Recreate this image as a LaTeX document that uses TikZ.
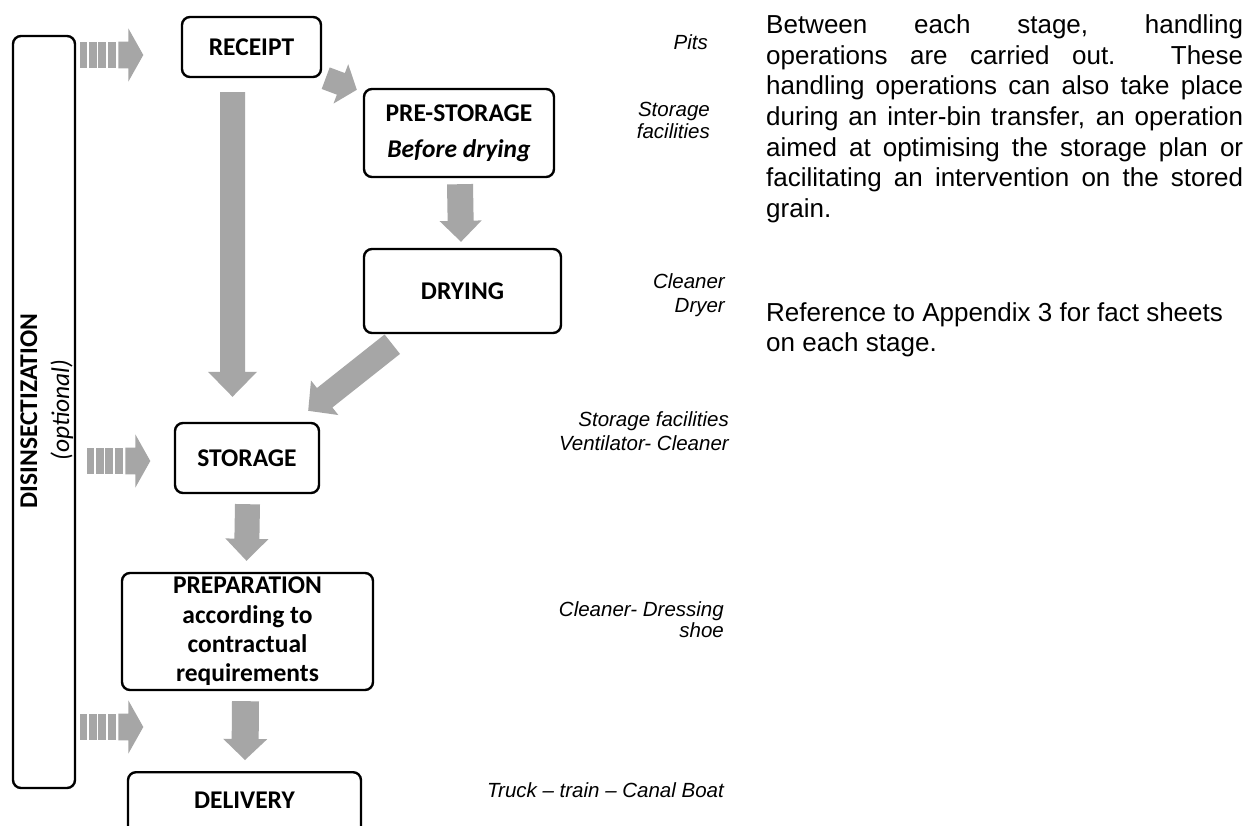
\documentclass[tikz,border=0pt]{standalone}
\usepackage{fontspec}
\setmainfont{Liberation Sans}
\newfontfamily\carlito{Carlito}
\usetikzlibrary{calc}
\definecolor{arrowgray}{RGB}{166,166,166}
\tolerance=10000
\hbadness=10000
\newcommand\blockarrow[6]{% #1 tail, #2 tip, #3 half shaft, #4 half head, #5 head length, #6 id
  \coordinate (#6h) at ($(#2)!#5!(#1)$);
  \fill[arrowgray] ($(#1)!#3!90:(#2)$) -- ($(#6h)!#3!90:(#2)$) -- ($(#6h)!#4!90:(#2)$) -- (#2)
     -- ($(#6h)!#4!-90:(#2)$) -- ($(#6h)!#3!-90:(#2)$) -- ($(#1)!#3!-90:(#2)$) -- cycle;}
\tikzset{
  stage/.style={draw, line width=2.4pt, rounded corners=8pt, inner sep=0pt, align=center,
    font=\carlito\bfseries\fontsize{25.5}{29.3}\selectfont},
  note/.style={font=\itshape\fontsize{20.5}{24}\selectfont, align=right, inner sep=0pt},
  para/.style={font=\fontsize{26}{30.6}\selectfont, inner sep=0pt, anchor=north west},
  stripearrow/.pic={
    \fill[arrowgray] (0,-13.3) rectangle (7,13.3);
    \fill[arrowgray] (9.3,-13.3) rectangle (16.7,13.3);
    \fill[arrowgray] (18.3,-13.3) rectangle (26,13.3);
    \fill[arrowgray] (28.3,-13.3) rectangle (36,13.3);
    \fill[arrowgray] (38.3,-13.3) -- (48.3,-13.3) -- (48.3,-26.7) -- (63.3,0)
       -- (48.3,26.7) -- (48.3,13.3) -- (38.3,13.3) -- cycle;
  }
}
\begin{document}
\begin{tikzpicture}[x=1pt,y=-1pt]
\useasboundingbox (0,0) rectangle (1255,826);
\fill[white] (0,0) rectangle (1255,826);
\clip (0,0) rectangle (1255,826);

% left bar
\node[draw, line width=2.4pt, rounded corners=8pt, minimum width=62pt, minimum height=752pt, inner sep=0pt] (dis) at (44,412) {};
\node[rotate=90, anchor=base, inner sep=0pt, font=\carlito\bfseries\fontsize{25.5}{29}\selectfont] (distext) at (37,411) {DISINSECTIZATION};
\node[rotate=90, anchor=base, inner sep=0pt, font=\carlito\itshape\fontsize{25.5}{29}\selectfont] (disopt) at (69,410) {(optional)};

% stages
\node[stage, minimum width=139pt, minimum height=60pt] (receipt) at (251.5,47) {RECEIPT};
\node[stage, minimum width=190pt, minimum height=88pt] (prestorage) at (459,133) {PRE-STORAGE\\[7pt]{\itshape Before drying}};
\node[stage, minimum width=197pt, minimum height=84pt] (drying) at (462.5,291) {DRYING};
\node[stage, minimum width=144pt, minimum height=70pt] (storage) at (247,458) {STORAGE};
\node[stage, minimum width=251pt, minimum height=117pt] (prep) at (247.5,631.5) {PREPARATION\\according to\\contractual\\requirements};
\node[stage, minimum width=233pt, minimum height=70pt, anchor=north, text height=16.4pt, text depth=14.4pt] (delivery) at (244.5,771) {DELIVERY};

% striped arrows
\pic at (80,55) {stripearrow};
\pic at (87,461) {stripearrow};
\pic at (80,727) {stripearrow};

% block arrows
\coordinate (a1t) at ($(receipt.south east)+(3.5,0)$);
\coordinate (a1h) at ($(prestorage.north west)+(-6,2)$);
\coordinate (a2t) at ($(receipt.south)+(-19,14)$);
\coordinate (a2h) at ($(storage.north)+(-14.5,-25)$);
\coordinate (a3t) at ($(prestorage.south)+(1,6)$);
\coordinate (a3h) at ($(drying.north)+(-1.5,-6)$);
\coordinate (a4t) at ($(drying.south west)+(29.5,10)$);
\coordinate (a4h) at ($(storage.north east)+(-12,-11)$);
\coordinate (a5t) at ($(storage.south)+(0.5,10)$);
\coordinate (a5h) at ($(prep.north)+(-1,-11)$);
\coordinate (a6t) at ($(prep.south)+(-2,10)$);
\coordinate (a6h) at ($(delivery.north)+(0.5,-11)$);
\blockarrow{a1t}{a1h}{11.5pt}{21pt}{17pt}{b1}
\blockarrow{a2t}{a2h}{12.5pt}{24.5pt}{25pt}{b2}
\blockarrow{a3t}{a3h}{13pt}{21pt}{21pt}{b3}
\blockarrow{a4t}{a4h}{12.4pt}{22pt}{21pt}{b4}
\blockarrow{a5t}{a5h}{12.5pt}{21.5pt}{22pt}{b5}
\blockarrow{a6t}{a6h}{13.5pt}{22pt}{21pt}{b6}

% notes
\node[note, anchor=base east] (n1) at (708,50) {Pits};
\node[note, anchor=north east, font=\itshape\fontsize{20.5}{21.5}\selectfont] (n2) at (710,102) {Storage\\facilities};
\node[note, anchor=north east] (n3) at (725,273) {Cleaner\\Dryer};
\node[note, anchor=north east] (n4) at (729,411) {Storage facilities\\Ventilator- Cleaner};
\node[note, anchor=north east, font=\itshape\fontsize{20.5}{21.5}\selectfont] (n5) at (724,601) {Cleaner- Dressing\\shoe};
\node[note, anchor=base east] (n6) at (724,797) {Truck -- train -- Canal Boat};

% paragraphs
\node[para, text width=477pt, align=justify] (p1) at (766,14.7) {Between each stage, handling\linebreak
operations are carried out. These\linebreak
handling operations can also take place\linebreak
during an inter-bin transfer, an operation\linebreak
aimed at optimising the storage plan or\linebreak
facilitating an intervention on the stored\linebreak
grain.};
\node[para, align=left, font=\fontsize{26}{30}\selectfont] (p2) at (766,302.7) {Reference to Appendix 3 for fact sheets\\on each stage.};
\end{tikzpicture}
\end{document}
